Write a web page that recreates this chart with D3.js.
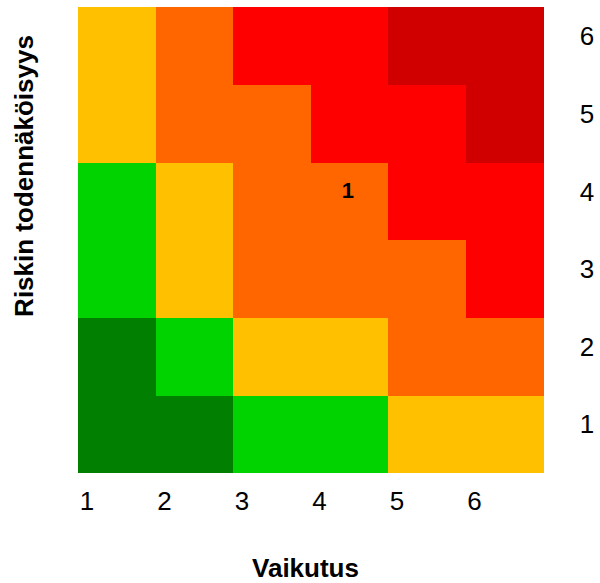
<!DOCTYPE html>
<html>
<head>
<meta charset="utf-8">
<script src="https://cdn.jsdelivr.net/npm/d3@7"></script>
<style>
  html, body { margin: 0; padding: 0; background: #fff; }
  svg { display: block; }
  text { font-family: "Liberation Sans", Arial, Helvetica, sans-serif; fill: #000; }
</style>
</head>
<body>
<svg id="chart" width="600" height="583"></svg>
<script>
// ---- data ----
const impacts = [1, 2, 3, 4, 5, 6];          // Vaikutus (x)
const likelihoods = [1, 2, 3, 4, 5, 6];      // Riskin todennäköisyys (y)
// risk level per likelihood row (index 0 = likelihood 1), per impact column
const levelsL1 = [1, 1, 2, 2, 3, 3];
const levelsL2 = [1, 2, 3, 3, 4, 4];
const levelsL3 = [2, 3, 4, 4, 4, 5];
const levelsL4 = [2, 3, 4, 4, 5, 5];
const levelsL5 = [3, 4, 4, 5, 5, 6];
const levelsL6 = [3, 4, 5, 5, 6, 6];
const levelRows = [levelsL1, levelsL2, levelsL3, levelsL4, levelsL5, levelsL6];
const levelColors = ["#007f00", "#00d300", "#ffc000", "#ff6600", "#ff0000", "#d00000"];
const riskLabels = ["1"];
const riskImpact = [4];
const riskLikelihood = [4];
const xTitle = "Vaikutus";
const yTitle = "Riskin todennäköisyys";

// ---- layout ----
const svg = d3.select("#chart");
const mLeft = 78, mRight = 543, mTop = 7, mBottom = 472.7;

const x = d3.scaleBand().domain(impacts).range([mLeft, mRight]).padding(0);
const y = d3.scaleBand().domain(likelihoods.slice().reverse()).range([mTop, mBottom]).padding(0);
const color = d3.scaleOrdinal().domain([1, 2, 3, 4, 5, 6]).range(levelColors);

const cells = [];
likelihoods.forEach((l, i) => {
  impacts.forEach((imp, j) => {
    cells.push({ impact: imp, likelihood: l, level: levelRows[i][j] });
  });
});

svg.append("g").selectAll("rect")
  .data(cells)
  .join("rect")
  .attr("x", d => x(d.impact))
  .attr("y", d => y(d.likelihood))
  .attr("width", x.bandwidth() + 0.5)
  .attr("height", y.bandwidth() + 0.5)
  .attr("fill", d => color(d.level))
  .attr("shape-rendering", "crispEdges");

// risk markers
svg.append("g").selectAll("text")
  .data(riskLabels.map((t, i) => ({ t, impact: riskImpact[i], likelihood: riskLikelihood[i] })))
  .join("text")
  .attr("x", d => x(d.impact) + x.bandwidth() / 2 - 1.5)
  .attr("y", d => y(d.likelihood) + y.bandwidth() / 2 - 3.5)
  .attr("text-anchor", "middle")
  .style("font-weight", "bold")
  .style("font-size", "22px")
  .text(d => d.t);

// x tick labels (at left edge of each column)
const xAxis = d3.axisBottom(x).tickSize(0).tickPadding(0);
const gx = svg.append("g").attr("transform", `translate(0,${mBottom})`).call(xAxis);
gx.select(".domain").remove();
gx.selectAll(".tick text")
  .attr("x", -x.bandwidth() / 2 + 9)
  .attr("y", 0)
  .attr("dy", 0)
  .attr("transform", "translate(0,37.5)")
  .attr("font-size", 26)
  .attr("font-family", "Liberation Sans, Arial, sans-serif")
  .attr("fill", "#000");

// y tick labels (on the right, baseline at row center)
const yAxis = d3.axisRight(y).tickSize(0).tickPadding(0);
const gy = svg.append("g").attr("transform", `translate(587,0)`).call(yAxis);
gy.select(".domain").remove();
gy.selectAll(".tick text")
  .attr("x", 0)
  .attr("dy", 0)
  .attr("y", -0.5)
  .attr("text-anchor", "middle")
  .attr("font-size", 26)
  .attr("font-family", "Liberation Sans, Arial, sans-serif")
  .attr("fill", "#000");

// axis titles
svg.append("text")
  .attr("x", 305.5)
  .attr("y", 577)
  .attr("text-anchor", "middle")
  .attr("font-weight", "bold")
  .attr("font-size", 26)
  .text(xTitle);

svg.append("text")
  .attr("transform", "translate(32.5,176) rotate(-90)")
  .attr("text-anchor", "middle")
  .attr("font-weight", "bold")
  .attr("font-size", 26)
  .text(yTitle);
</script>
</body>
</html>
